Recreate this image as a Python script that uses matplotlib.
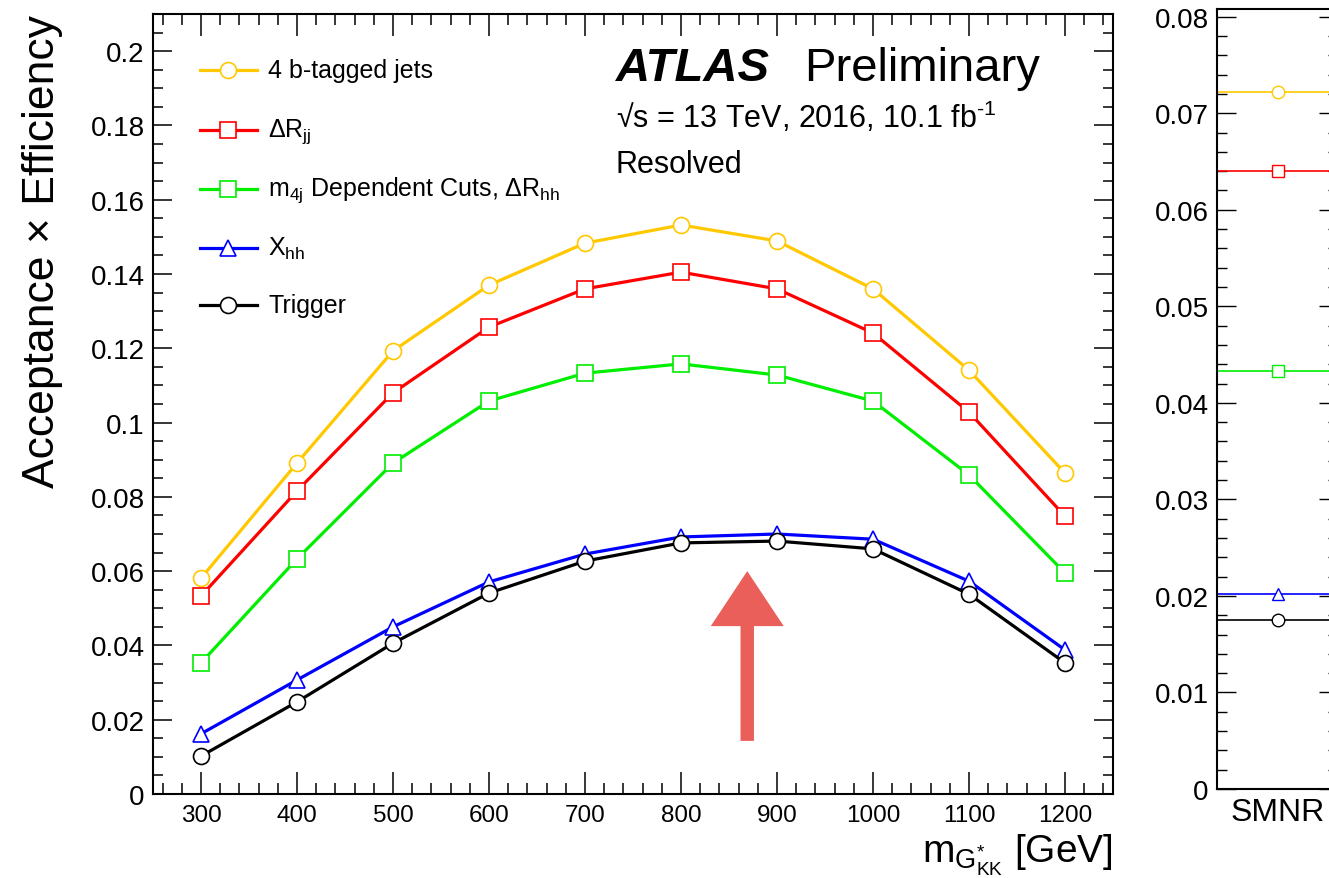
import matplotlib
matplotlib.use("Agg")
import matplotlib.pyplot as plt
from matplotlib.patches import FancyArrow
from matplotlib.ticker import MultipleLocator

plt.rcParams['font.family'] = ['Liberation Sans', 'DejaVu Sans']
plt.rcParams['mathtext.fontset'] = 'custom'
plt.rcParams['mathtext.rm'] = 'Liberation Sans'
plt.rcParams['mathtext.it'] = 'Liberation Sans'
plt.rcParams['mathtext.bf'] = 'Liberation Sans:bold'
plt.rcParams['mathtext.default'] = 'regular'

# --- data ---
masses = [300, 400, 500, 600, 700, 800, 900, 1000, 1100, 1200]
btag4 = [0.0581, 0.0891, 0.1193, 0.1370, 0.1483, 0.1532, 0.1489, 0.1360, 0.1141, 0.0864]
dr_jj = [0.0533, 0.0816, 0.1080, 0.1257, 0.1360, 0.1405, 0.1360, 0.1241, 0.1028, 0.0748]
m4j_cuts = [0.0353, 0.0633, 0.0891, 0.1058, 0.1133, 0.1158, 0.1128, 0.1058, 0.0859, 0.0595]
x_hh = [0.0162, 0.0307, 0.0450, 0.0571, 0.0646, 0.0692, 0.0700, 0.0686, 0.0573, 0.0388]
trigger = [0.0102, 0.0248, 0.0406, 0.0541, 0.0627, 0.0676, 0.0681, 0.0660, 0.0538, 0.0353]

smnr_labels = ['SMNR']
smnr_vals = [0.0722, 0.0640, 0.0433, 0.0202, 0.0175]

labels = ['4 b-tagged jets', r'$\Delta R_{jj}$',
          r'$m_{4j}$ Dependent Cuts, $\Delta R_{hh}$', r'$X_{hh}$', 'Trigger']
colors = ['#FFC800', '#FF0000', '#00EE00', '#0000FF', '#000000']
markers = ['o', 's', 's', '^', 'o']
series = [btag4, dr_jj, m4j_cuts, x_hh, trigger]

fig = plt.figure(figsize=(13.29, 8.79), dpi=100)
ax = fig.add_axes([153 / 1329, 84 / 879, 960 / 1329, 780 / 879])

for vals, c, m in zip(series, colors, markers):
    ax.plot(masses, vals, color=c, lw=2.3, marker=m, ms=11.5,
            mfc='white', mec=c, mew=1.2)

ax.set_xlim(250, 1250)
ax.set_ylim(0, 0.21)
ax.xaxis.set_major_locator(MultipleLocator(100))
ax.xaxis.set_minor_locator(MultipleLocator(20))
ax.yaxis.set_minor_locator(MultipleLocator(0.005))
ax.set_yticks([0, 0.02, 0.04, 0.06, 0.08, 0.1, 0.12, 0.14, 0.16, 0.18, 0.2])
ax.set_yticklabels(['0', '0.02', '0.04', '0.06', '0.08', '0.1', '0.12',
                    '0.14', '0.16', '0.18', '0.2'])
ax.set_xticks(masses)
ax.tick_params(which='both', direction='in', top=True, right=True, width=1.1)
ax.tick_params(axis='y', which='major', length=14, labelsize=20, pad=6)
ax.tick_params(axis='y', which='minor', length=7)
ax.tick_params(axis='x', which='major', length=16, labelsize=17.5, pad=7)
ax.tick_params(axis='x', which='minor', length=8)
for s in ax.spines.values():
    s.set_linewidth(1.5)

ax.set_ylabel(u'Acceptance \u00d7 Efficiency', fontsize=32, loc='top', labelpad=20)
ax.set_xlabel(r'$m_{G^{*}_{KK}}$ [GeV]', fontsize=28, loc='right', labelpad=4)

# legend drawn by hand to keep ROOT-like spacing
rows_y = [0.928, 0.851, 0.776, 0.700, 0.627]
for y, lab, c, m in zip(rows_y, labels, colors, markers):
    ax.plot([0.049, 0.108], [y, y], transform=ax.transAxes, color=c, lw=2.3)
    ax.plot([0.078], [y], transform=ax.transAxes, marker=m, ms=11.5,
            mfc='white', mec=c, mew=1.2, color=c)
    ax.text(0.120, y, lab, transform=ax.transAxes, fontsize=18, va='center')

ax.text(0.482, 0.915, 'ATLAS', transform=ax.transAxes, fontsize=34,
        fontweight='bold', fontstyle='italic', va='baseline')
ax.text(0.678, 0.915, 'Preliminary', transform=ax.transAxes, fontsize=34,
        va='baseline')
ax.text(0.482, 0.855, u'\u221as = 13 TeV, 2016, 10.1 fb$^{\u2010 1}$',
        transform=ax.transAxes, fontsize=22, va='baseline')
ax.text(0.482, 0.797, 'Resolved', transform=ax.transAxes, fontsize=22,
        va='baseline')

# hand-drawn red arrow
ax.add_patch(FancyArrow(869, 0.0143, 0, 0.0457, width=14, head_width=76,
                        head_length=0.0148, length_includes_head=True,
                        color='#EB5F5A', lw=0))

# right panel (cut off by the figure edge)
ax2 = fig.add_axes([1217 / 1329, 89 / 879, 121 / 1329, 780 / 879])
for v, c, m in zip(smnr_vals, colors, markers):
    ax2.plot([0, 1], [v, v], color=c, lw=1.2)
    ax2.plot([0.5], [v], marker=m, ms=9, mfc='white', mec=c, mew=1.0, color=c)
ax2.set_xlim(0, 1)
ax2.set_ylim(0, 0.0808)
ax2.yaxis.set_minor_locator(MultipleLocator(0.002))
ax2.set_yticks([0, 0.01, 0.02, 0.03, 0.04, 0.05, 0.06, 0.07, 0.08])
ax2.set_yticklabels(['0', '0.01', '0.02', '0.03', '0.04', '0.05', '0.06',
                     '0.07', '0.08'])
ax2.set_xticks([0.5])
ax2.set_xticklabels(smnr_labels)
ax2.tick_params(axis='x', length=0, labelsize=23, pad=6)
ax2.tick_params(axis='y', which='both', direction='in', right=True, width=1.0)
ax2.tick_params(axis='y', which='major', length=14, labelsize=20, pad=6)
ax2.tick_params(axis='y', which='minor', length=7)
for s in ax2.spines.values():
    s.set_linewidth(1.5)

fig.savefig('out.png', dpi=100)
